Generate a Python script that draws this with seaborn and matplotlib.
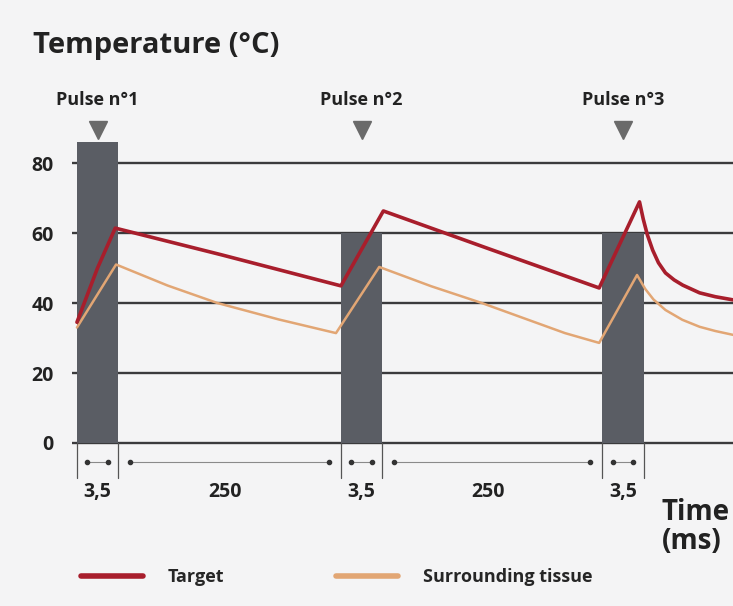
import matplotlib
matplotlib.use("Agg")
import matplotlib.pyplot as plt
from matplotlib import font_manager
from matplotlib.lines import Line2D
import pandas as pd
import seaborn as sns

# schematic time axis: one unit = one pulse width (not to scale)
pulse_start = [0.0, 6.41, 12.76]
pulse_width = 1.0
pulse_height = [86, 60, 60]
pulse_labels = ["Pulse n°1", "Pulse n°2", "Pulse n°3"]

target_x = [0.0, 0.5, 0.93, 3.5, 6.41, 7.44, 10.0, 12.68, 13.66, 13.75,
            13.85, 13.98, 14.12, 14.29, 14.5, 14.71, 15.12, 15.5, 15.93]
target_y = [34.5, 50.0, 61.4, 53.8, 44.9, 66.3, 55.5, 44.3, 68.9, 64.0,
            59.5, 55.1, 51.5, 48.6, 46.6, 45.1, 42.9, 41.8, 40.9]

tissue_x = [0.0, 0.95, 2.2, 3.41, 4.9, 6.29, 7.34, 8.6, 9.83, 11.85, 12.68,
            13.6, 13.8, 14.0, 14.29, 14.7, 15.12, 15.5, 15.93]
tissue_y = [33.0, 51.0, 45.0, 40.0, 35.3, 31.4, 50.3, 44.8, 40.0, 31.4,
            28.6, 48.0, 44.0, 41.0, 38.0, 35.2, 33.2, 32.0, 30.9]

y_ticks = [0, 20, 40, 60, 80]
gap_labels = ["3,5", "250", "3,5", "250", "3,5"]

sns.set_theme(style="white")
names = {f.name for f in font_manager.fontManager.ttflist}
main_font = "Liberation Sans Narrow" if "Liberation Sans Narrow" in names else "Open Sans"
plt.rcParams["font.family"] = [main_font, "DejaVu Sans"]
plt.rcParams["font.weight"] = "bold"

bg = "#f4f4f5"
red = "#a81e2c"
tan = "#e2a674"
grid_c = "#3a3a3c"

fig = plt.figure(figsize=(7.33, 6.06), dpi=100, facecolor=bg)
ax = fig.add_axes([72 / 733, 0.0091, 1 - 72 / 733, 0.8374])
ax.set_facecolor(bg)
for s in ax.spines.values():
    s.set_visible(False)

ax.set_xlim(-0.12, 15.93)
ax.set_ylim(-45, 100)

# horizontal guide lines
for yv in y_ticks:
    ax.axhline(yv, color=grid_c, lw=1.7, zorder=1)

# pulses
ax.bar(pulse_start, pulse_height, width=pulse_width, align="edge",
       color="#5a5d64", edgecolor="none", linewidth=0, zorder=2)

df_t = pd.DataFrame({"x": target_x, "y": target_y})
df_s = pd.DataFrame({"x": tissue_x, "y": tissue_y})
sns.lineplot(data=df_s, x="x", y="y", color=tan, lw=1.8, sort=False, ax=ax, zorder=3)
sns.lineplot(data=df_t, x="x", y="y", color=red, lw=2.6, sort=False, ax=ax, zorder=4)

ax.set_xlabel("")
ax.set_ylabel("")
ax.set_xticks([])
ax.set_yticks(y_ticks)
ax.set_yticklabels([str(v) for v in y_ticks], fontsize=14, fontweight="bold")
ax.tick_params(axis="y", left=False, length=0, pad=13, colors="#222222")

# pulse labels and triangles
for st, lab in zip(pulse_start, pulse_labels):
    c = st + pulse_width / 2
    ax.text(c, 98, lab, ha="center", va="center", fontsize=13,
            fontweight="bold", color="#222222", clip_on=False)
    ax.plot(c, 89.5, marker="v", ms=13, color="#6a6a6a", clip_on=False)

# duration markers below the axis
edges = []
for st in pulse_start:
    edges += [st, st + pulse_width]
for e in edges:
    ax.plot([e, e], [0, -10], color="#555555", lw=0.9)
spans = []
for i, st in enumerate(pulse_start):
    spans.append((st + 0.25, st + pulse_width - 0.25))
    if i < len(pulse_start) - 1:
        spans.append((st + pulse_width + 0.3, pulse_start[i + 1] - 0.3))
centers = []
for i, st in enumerate(pulse_start):
    centers.append(st + pulse_width / 2)
    if i < len(pulse_start) - 1:
        centers.append((st + pulse_width + pulse_start[i + 1]) / 2 - 0.1)
for (a, b), c, lab in zip(spans, centers, gap_labels):
    ax.plot([a, b], [-5.4, -5.4], color="#8a8a8a", lw=0.8, marker="o", ms=3,
            mfc="#333333", mec="#333333")
    ax.text(c, -14, lab, ha="center", va="center", fontsize=14,
            fontweight="bold", color="#222222")

ax.text(14.2, -24, "Time\n(ms)", ha="left", va="center", fontsize=20,
        fontweight="bold", color="#222222", linespacing=1.0, clip_on=False)

fig.text(33 / 733, 1 - 45 / 606, "Temperature (°C)", ha="left", va="center",
         fontsize=21, fontweight="bold", color="#222222")

handles = [Line2D([], [], color=red, lw=4), Line2D([], [], color=tan, lw=4)]
fig.legend(handles, ["Target", "Surrounding tissue"], loc="center left",
           bbox_to_anchor=(65 / 733, 1 - 577 / 606), ncol=2, frameon=False,
           fontsize=13, handlelength=3.4, handletextpad=1.4, columnspacing=6.2)

fig.savefig("out.png", dpi=100, facecolor=bg)
